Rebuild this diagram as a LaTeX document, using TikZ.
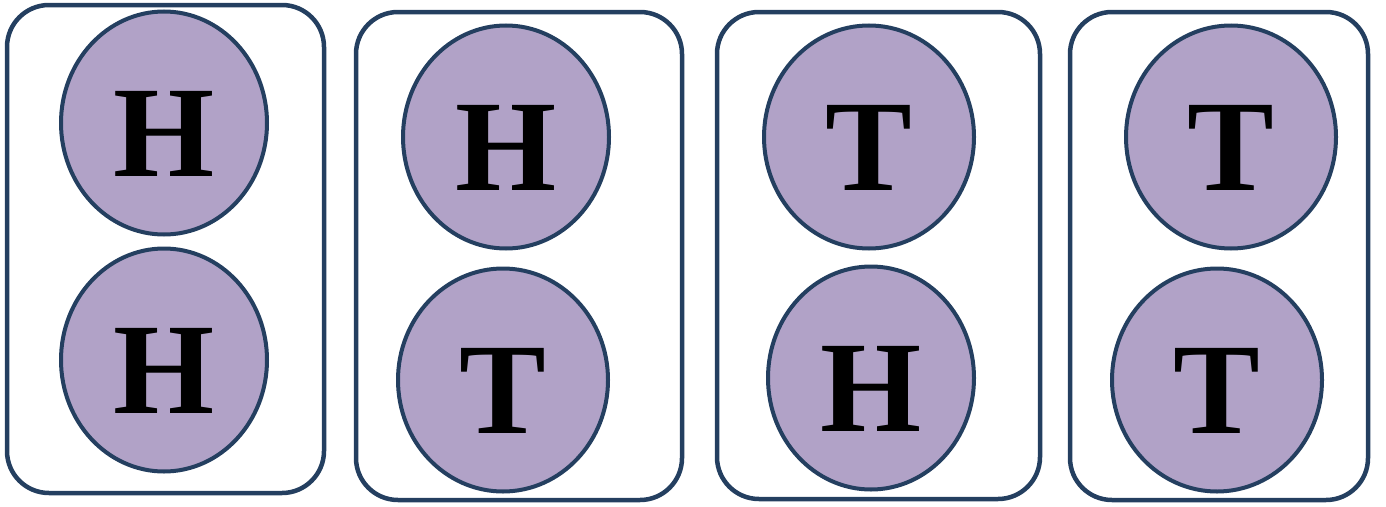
\documentclass[tikz,border=0pt]{standalone}
\usepackage{fontspec}
\setmainfont{Liberation Serif}
\usetikzlibrary{shapes.geometric}
\definecolor{CoinLilac}{HTML}{B1A2C7}
\definecolor{InkNavy}{HTML}{243F60}
\newcommand{\CoinFont}{\bfseries\fontsize{130pt}{130pt}\selectfont}

\begin{document}
\begin{tikzpicture}[x=1pt, y=-1pt,
  outcome/.style={draw=InkNavy, line width=4.5pt, rounded corners=42pt},
  coin/.style={ellipse, draw=InkNavy, line width=4pt, fill=CoinLilac,
    minimum width=#1, minimum height=223pt, inner sep=0pt,
    text height=106pt, text depth=0pt, font=\CoinFont},
  coin/.default=206pt]
  \useasboundingbox (0,0) rectangle (1386,506);
  % outcome boxes
  \draw[outcome] (7,5) rectangle (324,493);
  \draw[outcome] (356,12) rectangle (682,500);
  \draw[outcome] (717,12) rectangle (1040,499);
  \draw[outcome] (1070,12) rectangle (1368,500);
  % coins
  \node[coin] (hh1) at (164,123) {H};
  \node[coin] (hh2) at (164,360) {H};
  \node[coin] (ht1) at (506,137) {H};
  \node[coin=210pt] (ht2) at (503,380) {T};
  \node[coin=210pt] (th1) at (869,137) {T};
  \node[coin] (th2) at (871,378) {H};
  \node[coin=210pt] (tt1) at (1231,137) {T};
  \node[coin=210pt] (tt2) at (1217,380) {T};
\end{tikzpicture}
\end{document}
